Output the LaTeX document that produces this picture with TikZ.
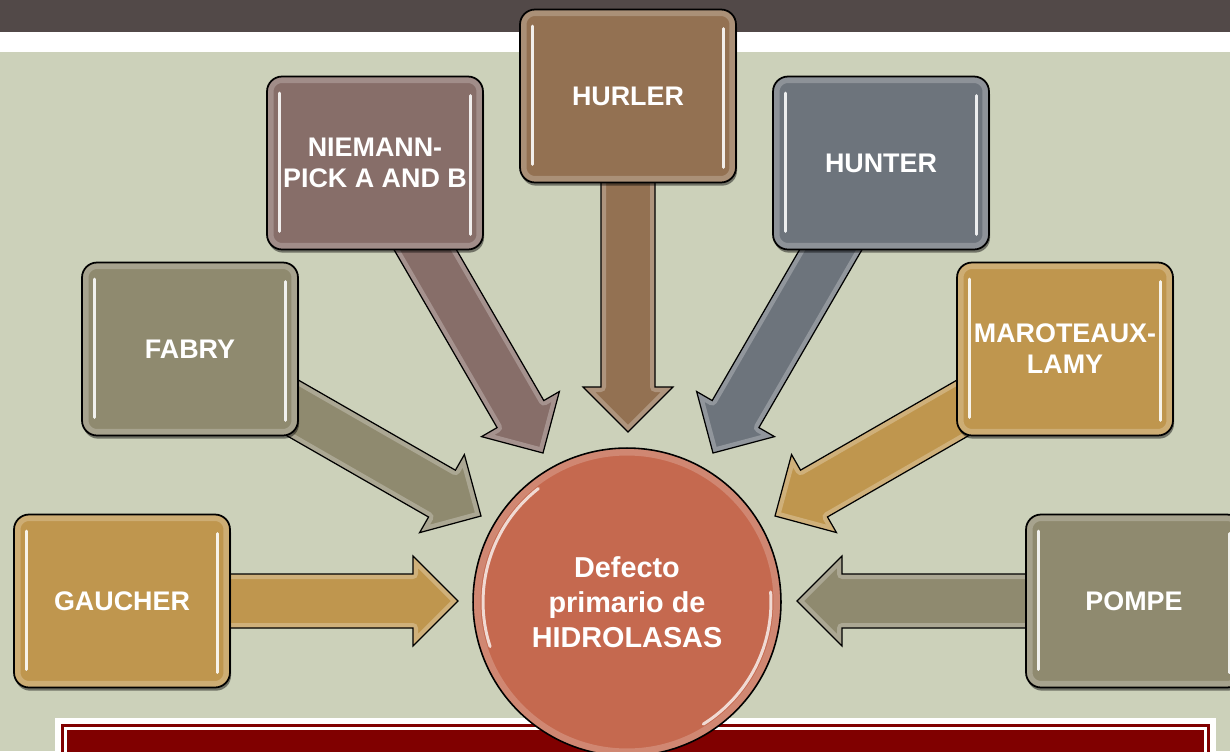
\documentclass[tikz,border=0pt]{standalone}
\usepackage{fontspec}
\setmainfont{Liberation Sans}
\usetikzlibrary{calc,shadows,backgrounds}

\definecolor{fondo}{HTML}{CCD1BA}
\definecolor{barra}{HTML}{524948}
\definecolor{oro}{HTML}{BF964E}
\definecolor{oliva}{HTML}{8F8A6F}
\definecolor{malva}{HTML}{876E69}
\definecolor{cafe}{HTML}{937152}
\definecolor{gris}{HTML}{6D747C}
\definecolor{teja}{HTML}{C5694F}
\definecolor{guinda}{HTML}{800000}

% flecha gruesa: de la caja #1 a la punta #2, color #3
\newcommand{\flecha}[3]{%
  \coordinate (base) at ($(#2)!0.9cm!(#1)$);
  \def\contorno{($(#1)!0.54cm!90:(#2)$) -- ($(base)!0.54cm!90:(#2)$) -- ($(base)!0.9cm!90:(#2)$) -- (#2) -- ($(base)!0.9cm!-90:(#2)$) -- ($(base)!0.54cm!-90:(#2)$) -- ($(#1)!0.54cm!-90:(#2)$) -- cycle}%
  \fill[#3] \contorno;
  \begin{scope}
    \clip \contorno;
    \draw[white, opacity=.25, line width=0.2cm, line join=round] \contorno;
  \end{scope}
  \draw[black, line width=0.7pt] \contorno;
}

\begin{document}
\begin{tikzpicture}[x=0.02cm, y=-0.02cm,
    caja/.style={rectangle, rounded corners=0.3cm, draw=black, line width=1pt, fill=#1,
      minimum width=4.32cm, minimum height=3.46cm, inner sep=2pt, align=center,
      text=white, font=\bfseries\fontsize{15.3}{17.6}\selectfont,
      drop shadow={shadow xshift=0.6pt, shadow yshift=-1.8pt, opacity=.45, fill=black},
      path picture={
        \draw[white, opacity=.22, line width=0.26cm, rounded corners=0.3cm]
          (path picture bounding box.south west) rectangle (path picture bounding box.north east);
        \draw[#1!12!white, line width=0.06cm, line cap=round]
          ([xshift=0.24cm,yshift=-0.33cm]path picture bounding box.north west) --
          ([xshift=0.24cm,yshift=0.36cm]path picture bounding box.south west);
        \draw[#1!12!white, line width=0.06cm, line cap=round]
          ([xshift=-0.24cm,yshift=-0.38cm]path picture bounding box.north east) --
          ([xshift=-0.24cm,yshift=0.3cm]path picture bounding box.south east);
      }},
    circulo/.style={circle, draw=black, line width=0.9pt, fill=teja, minimum size=6.16cm,
      inner sep=0pt, align=center, text=white,
      font=\bfseries\fontsize{16.4}{19.8}\selectfont,
      path picture={
        \draw[white, opacity=.2, line width=0.3cm] (path picture bounding box.center) circle[radius=3.08cm];
        \draw[white!75!teja, line width=0.06cm, line cap=round]
          ([shift={(128:2.88cm)}]path picture bounding box.center) arc[start angle=128, end angle=198, radius=2.88cm];
        \draw[white!75!teja, line width=0.06cm, line cap=round]
          ([shift={(-58:2.88cm)}]path picture bounding box.center) arc[start angle=-58, end angle=4, radius=2.88cm];
      }}]
  \useasboundingbox (0,0) rectangle (1230,751);

  % fondo de la diapositiva
  \begin{scope}[on background layer]
    \fill[fondo] (0,0) rectangle (1230,751);
    \fill[barra] (0,0) rectangle (1230,32);
    \fill[white] (0,32) rectangle (1230,52);
    \fill[white] (55,718) rectangle (1216,760);
    \fill[guinda] (61,724) rectangle (1210,760);
    \draw[white, line width=1.2pt] (65.5,728.5) rectangle (1205.5,770);
  \end{scope}

  \node[caja=oro] (gaucher) at (122,601) {GAUCHER};
  \node[caja=oliva] (fabry) at (190,349) {FABRY};
  \node[caja=malva] (niemann) at (375,163) {NIEMANN-\\PICK A AND B};
  \node[caja=cafe] (hurler) at (628,96) {HURLER};
  \node[caja=gris] (hunter) at (881,163) {HUNTER};
  \node[caja=oro] (maroteaux) at (1065,349) {MAROTEAUX-\\LAMY};
  \node[caja=oliva] (pompe) at (1134,601) {POMPE};
  \node[circulo] (hidrolasas) at (627,602) {Defecto\\primario de\\HIDROLASAS};

  % puntas de las flechas
  \coordinate (tgaucher) at (458,601);
  \coordinate (tfabry) at (481,516);
  \coordinate (tniemann) at (543,453);
  \coordinate (thurler) at (628,432);
  \coordinate (thunter) at (713,453);
  \coordinate (tmaroteaux) at (775,516);
  \coordinate (tpompe) at (797,601);

  \begin{scope}[on background layer]
    \flecha{gaucher}{tgaucher}{oro}
    \flecha{fabry}{tfabry}{oliva}
    \flecha{niemann}{tniemann}{malva}
    \flecha{hurler}{thurler}{cafe}
    \flecha{hunter}{thunter}{gris}
    \flecha{maroteaux}{tmaroteaux}{oro}
    \flecha{pompe}{tpompe}{oliva}
  \end{scope}
\end{tikzpicture}
\end{document}
